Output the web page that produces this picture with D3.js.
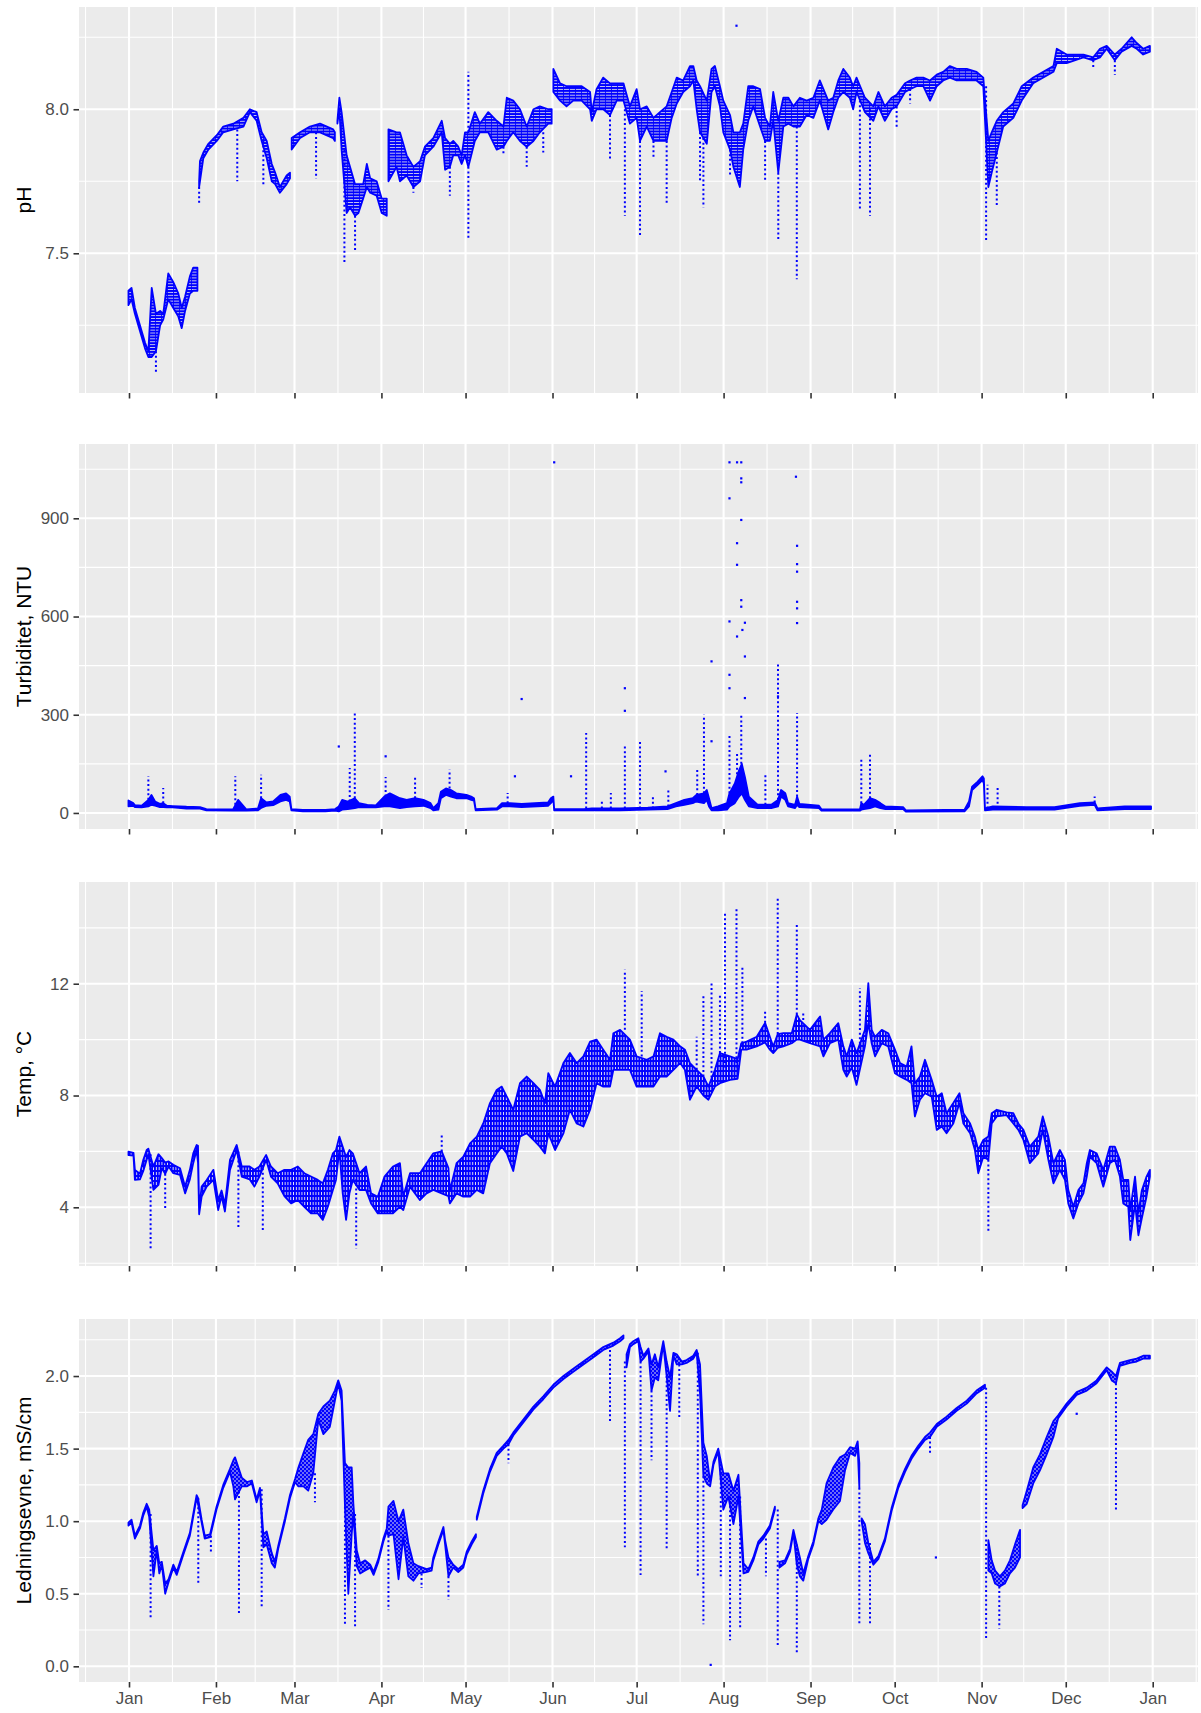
<!DOCTYPE html>
<html>
<head>
<meta charset="utf-8">
<script src="https://cdn.jsdelivr.net/npm/d3@7/dist/d3.min.js"></script>
<style>
  body { margin: 0; background: #ffffff; }
  svg text { font-family: "Liberation Sans", Arial, sans-serif; }
</style>
</head>
<body>
<script>
// x axis: day of year (0 = 1 Jan)
var monthDays = [0, 31, 59, 90, 120, 151, 181, 212, 243, 273, 304, 334, 365];
var monthLabels = ["Jan", "Feb", "Mar", "Apr", "May", "Jun", "Jul", "Aug", "Sep", "Oct", "Nov", "Dec", "Jan"];
var monthMinor = [-15.5, 15.5, 45, 74.5, 105, 135.5, 166, 196.5, 227.5, 258, 288.5, 319, 349.5, 380.5];

// pH: [day, low, high] envelope, null = gap in record
var phBand = [
  [-0.2, 7.32, 7.37], [0.9, 7.34, 7.38], [2.1, 7.29, 7.31], [3.9, 7.23, 7.25], [5.7, 7.17, 7.19],
  [6.9, 7.14, 7.16], [8.1, 7.14, 7.38], [9.6, 7.16, 7.29], [11.1, 7.25, 7.30], [12.2, 7.27, 7.29],
  [14.0, 7.34, 7.43], [15.8, 7.31, 7.40], [17.6, 7.28, 7.36], [18.8, 7.24, 7.31], [20.0, 7.30, 7.35],
  [21.7, 7.36, 7.42], [22.9, 7.37, 7.45], [24.4, 7.37, 7.45], null,
  [25.0, 7.73, 7.75], [25.3, 7.75, 7.82], [26.5, 7.83, 7.85], [28.3, 7.86, 7.88], [31.3, 7.89, 7.91],
  [33.6, 7.92, 7.94], [37.2, 7.93, 7.95], [40.8, 7.94, 7.97], [43.1, 7.99, 8.00], [45.5, 7.96, 7.99],
  [47.3, 7.89, 7.92], [49.1, 7.83, 7.89], [50.9, 7.75, 7.81], [52.1, 7.74, 7.78], [53.8, 7.71, 7.73],
  [56.2, 7.74, 7.77], [57.4, 7.76, 7.78], null,
  [58.0, 7.86, 7.90], [61.0, 7.90, 7.92], [64.5, 7.92, 7.94], [68.1, 7.92, 7.95], [72.8, 7.90, 7.93],
  [73.4, 7.89, 7.92], null,
  [74.3, 7.95, 7.96], [75.0, 8.00, 8.04], [75.8, 7.86, 7.99], [77.6, 7.64, 7.84], [78.8, 7.66, 7.80],
  [80.6, 7.63, 7.74], [81.8, 7.64, 7.74], [83.5, 7.69, 7.74], [84.8, 7.73, 7.81], [86.0, 7.71, 7.76],
  [88.3, 7.70, 7.75], [90.1, 7.64, 7.69], [91.9, 7.63, 7.69], null,
  [92.5, 7.75, 7.93], [95.4, 7.80, 7.92], [96.6, 7.75, 7.92], [99.0, 7.77, 7.84], [101.4, 7.73, 7.80],
  [103.8, 7.75, 7.82], [105.5, 7.84, 7.87], [108.5, 7.87, 7.90], [111.5, 7.92, 7.96], [112.7, 7.79, 7.90],
  [114.4, 7.80, 7.88], [115.6, 7.84, 7.89], [117.4, 7.84, 7.87], [118.6, 7.81, 7.84], [119.8, 7.84, 7.92],
  [121.0, 7.80, 7.92], [123.3, 7.89, 7.99], [125.1, 7.92, 7.95], [128.1, 7.92, 7.99], [131.1, 7.86, 7.96],
  [133.5, 7.87, 7.94], [134.7, 7.89, 8.04], [137.0, 7.92, 8.03], [139.4, 7.89, 8.00], [141.8, 7.87, 7.94],
  [144.2, 7.89, 8.00], [146.5, 7.92, 8.01], [149.5, 7.95, 8.00], [150.7, 7.95, 8.00], null,
  [151.3, 8.06, 8.14], [153.7, 8.03, 8.09], [156.0, 8.01, 8.08], [158.4, 8.03, 8.08], [161.4, 8.03, 8.08],
  [164.4, 8.00, 8.06], [165.0, 7.96, 7.99], [166.7, 8.00, 8.07], [169.1, 8.00, 8.11], [171.5, 7.98, 8.09],
  [173.9, 8.03, 8.09], [176.3, 8.03, 8.09], [178.6, 7.95, 8.01], [181.0, 7.97, 8.07], [182.2, 7.89, 8.00],
  [184.6, 7.94, 8.01], [187.0, 7.89, 7.97], [189.3, 7.89, 7.99], [191.7, 7.89, 8.01], [193.5, 7.97, 8.06],
  [195.3, 8.02, 8.11], [197.6, 8.06, 8.10], [200.0, 8.08, 8.15], [201.2, 8.10, 8.15], [202.4, 8.00, 8.10],
  [203.6, 7.92, 8.08], [206.0, 7.88, 8.03], [207.7, 8.06, 8.14], [208.9, 8.08, 8.15], [210.7, 8.01, 8.08],
  [211.9, 7.92, 8.03], [214.3, 7.86, 7.98], [215.5, 7.80, 7.92], [217.8, 7.73, 7.92], [219.0, 7.86, 7.95],
  [220.8, 7.96, 8.08], [222.6, 8.01, 8.08], [225.0, 7.94, 8.07], [226.8, 7.89, 7.97], [228.5, 7.89, 7.94],
  [229.7, 7.96, 8.06], [231.5, 7.78, 7.96], [233.3, 7.94, 8.04], [235.1, 7.95, 8.04], [236.9, 7.94, 8.01],
  [239.2, 7.94, 8.04], [241.6, 7.98, 8.03], [244.0, 7.97, 8.04], [246.3, 8.03, 8.10], [249.3, 7.93, 8.03],
  [251.1, 7.99, 8.04], [252.9, 8.04, 8.10], [254.7, 8.06, 8.14], [257.0, 8.04, 8.11], [258.2, 8.00, 8.08],
  [259.4, 8.06, 8.11], [262.4, 7.99, 8.04], [265.4, 7.96, 8.01], [267.2, 8.01, 8.06], [269.5, 7.96, 8.01],
  [271.9, 8.00, 8.04], [273.7, 8.01, 8.05], [276.7, 8.06, 8.09], [278.5, 8.07, 8.10], [280.8, 8.08, 8.11],
  [283.2, 8.08, 8.11], [285.6, 8.03, 8.10], [288.0, 8.08, 8.12], [290.3, 8.10, 8.13], [292.7, 8.11, 8.15],
  [295.1, 8.10, 8.14], [298.7, 8.10, 8.14], [302.2, 8.10, 8.13], [304.6, 8.08, 8.11], [306.4, 7.73, 7.89],
  [307.6, 7.78, 7.92], [309.4, 7.85, 7.96], [311.7, 7.94, 7.99], [315.3, 7.97, 8.02], [318.3, 8.03, 8.08],
  [322.4, 8.09, 8.11], [326.0, 8.11, 8.13], [329.6, 8.13, 8.15], [330.8, 8.16, 8.21], [334.3, 8.16, 8.19],
  [340.3, 8.18, 8.19], [343.8, 8.17, 8.18], [346.2, 8.18, 8.21], [348.6, 8.21, 8.22], [351.5, 8.17, 8.19],
  [353.9, 8.20, 8.21], [357.5, 8.22, 8.25], [359.3, 8.21, 8.23], [361.6, 8.19, 8.21], [364.0, 8.20, 8.22]
];
// pH short excursions: [day, from, to]
var phSpikes = [
  [9.6, 7.16, 7.08], [25.0, 7.73, 7.67], [38.6, 7.93, 7.75], [47.9, 7.89, 7.74], [66.7, 7.92, 7.76],
  [76.8, 7.86, 7.47], [80.6, 7.63, 7.51], [101.4, 7.73, 7.71], [114.4, 7.80, 7.70], [121.0, 7.80, 7.55],
  [121.0, 7.92, 8.13], [133.5, 7.87, 7.84], [141.8, 7.87, 7.80], [147.7, 7.92, 7.85], [171.5, 7.98, 7.82],
  [176.8, 8.00, 7.63], [182.2, 7.89, 7.56], [187.0, 7.89, 7.83], [191.7, 7.89, 7.67], [203.6, 7.92, 7.75],
  [204.8, 7.90, 7.66], [214.3, 7.86, 7.77], [226.8, 7.89, 7.75], [231.5, 7.78, 7.54], [238.1, 7.94, 7.41],
  [260.6, 8.03, 7.65], [264.2, 8.00, 7.63], [273.7, 8.01, 7.93], [278.5, 8.07, 8.02], [305.6, 8.08, 7.54],
  [309.4, 7.85, 7.66], [343.8, 8.17, 8.14], [351.5, 8.17, 8.12]
];
var phOutliers = [[216.6, 8.29]];
var phTicks = [7.5, 8.0];
var phTickLabels = ["7.5", "8.0"];
var phMinor = [7.25, 7.75, 8.25];

// Turbidity, NTU
var turbBand = [
  [-0.2, 20, 38], [1.5, 22, 30], [2.1, 18, 24], [4.5, 17, 22], [6.9, 20, 40], [8.0, 25, 55],
  [9.3, 22, 35], [11.0, 18, 28], [12.2, 18, 30], [13.5, 17, 22], [15.6, 17, 21], [20.5, 13, 19],
  [25.3, 13, 18], [27.6, 8, 12], [37.1, 7, 11], [38.9, 8, 40], [41.8, 7, 11], [46.0, 8, 14],
  [47.1, 15, 45], [49.0, 22, 32], [51.4, 24, 35], [54.0, 35, 55], [56.0, 40, 60], [57.3, 35, 50],
  [57.9, 8, 12], [62.0, 5, 9], [70.0, 5, 9], [73.5, 7, 12], [74.8, 5, 20], [76.0, 10, 40],
  [78.0, 12, 35], [80.5, 15, 45], [82.0, 18, 30], [85.0, 17, 25], [88.0, 17, 23], [91.0, 20, 50],
  [93.0, 20, 60], [96.6, 15, 45], [99.0, 18, 40], [102.0, 20, 45], [105.0, 22, 40], [107.5, 15, 30],
  [108.5, 8, 15], [110.3, 10, 30], [111.2, 45, 65], [113.0, 55, 75], [114.8, 50, 70], [116.7, 45, 60],
  [120.3, 45, 55], [122.0, 40, 50], [123.0, 38, 45], [123.6, 8, 12], [131.2, 10, 15], [133.0, 20, 30],
  [135.8, 20, 30], [140.0, 18, 28], [149.4, 22, 32], [150.4, 30, 45], [151.3, 40, 50], [151.6, 8, 12],
  [162.2, 8, 12], [165.0, 8, 14], [175.0, 8, 14], [185.0, 10, 16], [192.0, 12, 20], [195.0, 20, 30],
  [198.0, 25, 40], [201.0, 30, 45], [202.3, 35, 55], [205.0, 30, 60], [206.0, 40, 70], [206.8, 20, 45],
  [207.7, 8, 15], [210.0, 8, 20], [213.2, 10, 30], [214.1, 20, 60], [216.0, 30, 90], [217.5, 50, 130],
  [218.5, 60, 150], [219.6, 40, 110], [221.0, 20, 50], [224.1, 15, 25], [229.0, 15, 25], [231.4, 20, 40],
  [232.5, 50, 70], [234.0, 40, 60], [235.0, 20, 30], [237.5, 15, 25], [238.2, 25, 50], [239.0, 18, 28],
  [246.0, 15, 22], [246.9, 7, 11], [260.6, 7, 11], [261.1, 10, 30], [262.0, 12, 25], [264.2, 15, 45],
  [266.0, 20, 40], [267.9, 15, 30], [269.7, 12, 20], [276.0, 12, 18], [277.0, 4, 8], [297.9, 5, 10],
  [299.5, 20, 35], [300.6, 70, 80], [302.5, 85, 95], [304.3, 100, 112], [304.8, 90, 105], [305.2, 8, 14],
  [308.0, 10, 20], [320.0, 10, 18], [330.0, 10, 18], [339.0, 22, 30], [344.3, 25, 32], [345.3, 8, 14],
  [355.0, 12, 20], [364.4, 12, 20]
];
var turbSpikes = [
  [6.9, 40, 112], [12.2, 30, 76], [37.9, 11, 112], [47.1, 45, 117], [78.7, 35, 137], [80.5, 45, 305],
  [91.5, 50, 110], [102.0, 45, 112], [114.3, 75, 132], [135.0, 30, 61], [163.0, 14, 244], [168.6, 14, 40],
  [171.8, 14, 61], [176.8, 14, 208], [182.2, 14, 224], [186.8, 14, 56], [192.3, 20, 71], [202.6, 55, 132],
  [205.0, 60, 300], [214.1, 60, 240], [216.8, 90, 180], [218.3, 150, 300], [226.9, 25, 122], [231.4, 40, 458],
  [238.2, 50, 305], [261.1, 30, 163], [264.2, 45, 183], [306.1, 14, 86], [309.7, 14, 81], [344.3, 32, 50]
];
var turbOutliers = [
  [74.8, 203], [91.5, 173], [137.6, 112], [140.0, 348], [151.6, 1071], [157.6, 112], [176.8, 381],
  [176.8, 312], [191.3, 127], [207.7, 463], [207.7, 219], [214.1, 1071], [214.1, 961], [214.1, 585],
  [214.1, 422], [214.1, 381], [216.8, 1071], [216.8, 824], [216.8, 758], [216.8, 539], [218.3, 1071],
  [218.3, 1022], [218.3, 1010], [218.3, 895], [218.3, 650], [218.3, 630], [218.7, 559], [219.6, 581],
  [219.6, 478], [219.6, 351], [231.4, 356], [237.8, 1027], [238.2, 816], [238.2, 760], [238.2, 737],
  [238.2, 645], [238.2, 625], [238.2, 580]
];
var turbTicks = [0, 300, 600, 900];
var turbTickLabels = ["0", "300", "600", "900"];
var turbMinor = [150, 450, 750, 1050];

// Temperature, deg C
var tempBand = [
  [-0.2, 5.87, 5.99], [1.6, 5.85, 5.95], [2.1, 4.98, 5.34], [3.9, 5.00, 5.20], [5.1, 5.30, 5.70],
  [6.3, 5.70, 6.05], [6.9, 5.90, 6.10], [8.7, 4.62, 5.46], [10.5, 4.80, 5.90], [11.7, 5.40, 5.76],
  [12.9, 5.20, 5.60], [14.1, 5.46, 5.64], [15.8, 5.22, 5.52], [18.2, 5.16, 5.40], [20.0, 4.50, 4.74],
  [21.7, 5.00, 5.34], [22.9, 5.58, 5.93], [24.1, 6.05, 6.23], [24.6, 5.60, 6.20], [25.0, 3.75, 3.95],
  [25.9, 4.38, 4.74], [27.7, 4.74, 4.98], [30.1, 4.98, 5.34], [31.8, 3.90, 4.26], [33.0, 4.40, 4.60],
  [34.2, 3.85, 4.10], [36.0, 5.34, 5.70], [38.4, 6.05, 6.23], [40.2, 5.10, 5.46], [43.0, 5.00, 5.46],
  [44.7, 4.74, 5.34], [46.5, 5.10, 5.46], [48.9, 5.70, 5.87], [50.6, 5.10, 5.46], [53.0, 4.86, 5.22],
  [55.4, 4.40, 5.34], [57.8, 4.14, 5.34], [60.2, 4.26, 5.46], [62.5, 4.02, 5.22], [64.9, 3.78, 5.10],
  [67.3, 3.78, 4.98], [69.1, 3.55, 4.86], [70.9, 4.02, 5.34], [72.7, 4.62, 5.93], [73.8, 4.98, 6.05],
  [75.0, 6.05, 6.53], [76.2, 4.50, 6.17], [77.4, 3.55, 5.80], [78.6, 4.50, 6.05], [79.8, 4.98, 5.93],
  [82.2, 4.62, 5.22], [84.5, 4.62, 5.46], [86.3, 4.14, 4.50], [88.7, 3.78, 4.38], [91.1, 3.78, 5.10],
  [94.1, 3.78, 5.46], [96.6, 4.02, 5.58], [97.8, 3.90, 4.40], [100.2, 4.74, 5.22], [103.7, 4.26, 5.22],
  [106.1, 4.50, 5.58], [108.5, 4.62, 5.93], [111.5, 4.50, 6.00], [113.9, 4.40, 5.40], [114.4, 4.14, 4.60],
  [116.8, 4.50, 5.58], [119.2, 4.38, 5.81], [121.6, 4.38, 6.29], [124.0, 4.62, 6.53], [126.3, 4.50, 7.00],
  [128.7, 5.58, 7.73], [131.1, 5.93, 8.20], [132.9, 6.17, 8.32], [134.7, 5.93, 7.96], [137.0, 5.30, 7.49],
  [139.4, 6.53, 8.44], [141.8, 6.65, 8.68], [144.2, 6.41, 8.44], [146.5, 6.17, 8.20], [148.3, 5.93, 7.73],
  [149.5, 6.65, 8.80], [151.9, 6.05, 8.32], [154.9, 6.65, 9.16], [157.2, 7.49, 9.52], [159.6, 7.00, 9.16],
  [162.0, 6.89, 9.40], [164.4, 7.49, 9.93], [166.7, 8.44, 10.00], [169.1, 8.32, 9.64], [171.5, 8.32, 9.28],
  [172.7, 8.92, 10.23], [175.1, 8.92, 10.35], [178.6, 8.92, 10.00], [181.0, 8.32, 9.40], [184.6, 8.32, 9.28],
  [187.0, 8.32, 9.40], [189.3, 8.68, 10.23], [191.7, 8.68, 10.10], [194.1, 8.92, 10.00], [196.5, 9.16, 9.76],
  [198.2, 8.92, 9.64], [200.0, 7.85, 9.16], [202.4, 8.32, 8.92], [204.8, 8.00, 8.68], [206.6, 7.85, 8.32],
  [208.9, 8.32, 8.92], [210.7, 8.44, 9.52], [214.3, 8.56, 9.40], [217.0, 8.60, 9.30], [218.3, 9.64, 9.87],
  [220.2, 9.64, 9.93], [223.8, 9.76, 10.10], [226.8, 9.90, 10.60], [228.5, 9.64, 10.10], [229.7, 9.52, 9.75],
  [231.3, 9.70, 10.20], [233.3, 9.76, 10.23], [236.3, 9.87, 10.23], [238.1, 10.00, 10.90], [239.2, 10.00, 10.70],
  [242.8, 9.87, 10.35], [246.4, 9.76, 10.83], [247.6, 9.40, 10.00], [249.9, 9.87, 10.23], [252.9, 10.00, 10.59],
  [254.7, 8.92, 9.76], [255.9, 8.68, 9.40], [257.7, 9.00, 10.00], [259.4, 8.38, 9.52], [262.4, 9.76, 10.35],
  [263.6, 10.59, 12.02], [264.8, 9.87, 10.35], [266.0, 9.40, 10.10], [268.4, 9.87, 10.35], [270.7, 9.76, 10.23],
  [273.1, 8.80, 9.64], [274.9, 8.68, 9.16], [277.3, 8.56, 9.04], [279.0, 8.44, 9.76], [280.2, 7.25, 8.44],
  [282.0, 7.85, 8.68], [283.8, 8.08, 9.28], [286.2, 7.96, 8.56], [288.0, 6.77, 7.96], [289.8, 6.89, 8.08],
  [291.5, 6.65, 7.37], [293.9, 7.00, 7.73], [296.1, 7.73, 8.08], [297.5, 7.00, 7.37], [299.9, 6.65, 7.00],
  [301.6, 6.05, 6.53], [302.8, 5.22, 6.05], [304.6, 5.81, 6.41], [306.4, 5.70, 6.53], [307.6, 7.00, 7.37],
  [309.4, 7.25, 7.49], [312.9, 7.30, 7.40], [315.3, 7.00, 7.37], [317.1, 6.77, 7.00], [318.9, 6.41, 6.77],
  [321.2, 5.58, 6.17], [324.2, 5.93, 6.53], [325.8, 6.77, 7.25], [327.8, 5.70, 6.53], [329.6, 4.86, 5.58],
  [331.9, 5.34, 6.05], [333.7, 4.98, 5.70], [334.9, 4.14, 4.62], [336.7, 3.60, 4.02], [338.5, 4.14, 4.62],
  [340.3, 4.50, 4.86], [341.5, 5.10, 5.58], [342.6, 5.81, 6.05], [345.0, 5.58, 5.93], [347.4, 4.74, 5.34],
  [349.7, 5.58, 6.17], [351.5, 5.70, 6.17], [353.3, 5.10, 5.70], [354.5, 4.14, 4.98], [356.3, 4.02, 4.98],
  [357.0, 2.83, 3.90], [358.7, 4.14, 5.10], [359.9, 3.00, 3.80], [361.1, 3.60, 4.60], [362.8, 4.38, 5.10],
  [364.0, 5.10, 5.34]
];
var tempSpikes = [
  [7.7, 5.90, 2.53], [12.9, 5.20, 3.90], [39.0, 6.00, 3.25], [47.7, 5.40, 3.19], [81.0, 5.50, 2.53],
  [111.5, 6.00, 6.65], [176.8, 10.35, 12.50], [182.8, 9.40, 11.73], [202.4, 8.92, 10.10], [204.8, 8.68, 11.55],
  [207.7, 8.32, 12.08], [210.7, 9.52, 11.60], [212.5, 9.00, 14.53], [216.6, 9.00, 14.71], [218.7, 9.87, 12.60],
  [226.8, 10.60, 11.07], [231.3, 10.20, 15.07], [238.1, 10.90, 14.17], [240.4, 10.70, 11.00],
  [260.6, 9.52, 11.84], [306.4, 5.70, 3.13]
];
var tempOutliers = [];
var tempTicks = [4, 8, 12];
var tempTickLabels = ["4", "8", "12"];
var tempMinor = [2, 6, 10, 14];

// Conductivity, mS/cm
var condBand = [
  [-0.2, 0.97, 0.99], [0.9, 0.99, 1.01], [2.1, 0.88, 0.90], [3.9, 0.95, 0.97], [5.1, 1.04, 1.06],
  [6.3, 1.10, 1.12], [7.2, 1.03, 1.08], [8.7, 0.62, 0.80], [9.9, 0.80, 0.83], [10.8, 0.64, 0.71],
  [11.7, 0.70, 0.72], [12.9, 0.50, 0.57], [14.1, 0.58, 0.60], [15.8, 0.68, 0.70], [17.0, 0.63, 0.65],
  [19.4, 0.77, 0.79], [21.7, 0.90, 0.92], [24.1, 1.16, 1.18], [24.6, 1.12, 1.16], [25.9, 0.99, 1.01],
  [27.0, 0.88, 0.90], [28.9, 0.89, 0.91], [31.2, 1.08, 1.10], [33.6, 1.23, 1.25], [36.0, 1.34, 1.36],
  [37.2, 1.24, 1.42], [37.8, 1.15, 1.44], [40.2, 1.24, 1.30], [42.0, 1.24, 1.27], [43.8, 1.26, 1.28],
  [45.5, 1.13, 1.15], [46.7, 1.21, 1.23], [47.9, 0.82, 0.91], [49.1, 0.84, 0.93], [50.9, 0.71, 0.78],
  [52.0, 0.68, 0.72], [53.2, 0.81, 0.83], [55.6, 1.00, 1.02], [57.4, 1.16, 1.18], [59.2, 1.27, 1.29],
  [60.4, 1.24, 1.37], [62.2, 1.24, 1.47], [63.9, 1.21, 1.56], [65.7, 1.33, 1.60], [67.5, 1.70, 1.74],
  [69.3, 1.60, 1.79], [71.6, 1.65, 1.83], [73.4, 1.83, 1.90], [74.6, 1.95, 1.97], [75.8, 1.83, 1.90],
  [77.0, 1.10, 1.40], [78.2, 0.50, 1.37], [79.4, 0.91, 1.37], [80.0, 1.05, 1.12], [81.2, 0.69, 0.80],
  [82.4, 0.64, 0.71], [84.2, 0.66, 0.73], [86.0, 0.68, 0.70], [87.2, 0.63, 0.65], [88.9, 0.72, 0.74],
  [90.7, 0.86, 0.88], [91.9, 0.93, 0.95], [92.5, 0.90, 1.10], [94.3, 0.91, 1.14], [96.1, 0.60, 1.00],
  [97.8, 0.89, 1.08], [99.6, 0.62, 0.85], [101.4, 0.59, 0.71], [103.2, 0.64, 0.69], [106.1, 0.65, 0.67],
  [107.9, 0.66, 0.68], [108.5, 0.73, 0.75], [110.3, 0.84, 0.86], [112.1, 0.94, 0.96], [112.7, 0.84, 0.87],
  [113.9, 0.62, 0.75], [115.6, 0.68, 0.70], [117.4, 0.65, 0.67], [119.2, 0.68, 0.70], [120.4, 0.77, 0.79],
  [122.2, 0.84, 0.86], [123.7, 0.89, 0.91], null,
  [124.0, 1.01, 1.03], [126.3, 1.19, 1.21], [128.7, 1.34, 1.36], [131.1, 1.45, 1.47], [133.5, 1.50, 1.52],
  [135.3, 1.53, 1.56], [137.0, 1.59, 1.61], [140.6, 1.68, 1.70], [144.2, 1.77, 1.79], [147.7, 1.84, 1.86],
  [151.3, 1.92, 1.94], [154.9, 1.98, 2.00], [158.4, 2.03, 2.05], [162.0, 2.08, 2.10], [165.6, 2.13, 2.15],
  [169.1, 2.18, 2.20], [172.7, 2.21, 2.23], [175.1, 2.24, 2.26], [176.3, 2.26, 2.28], null,
  [177.4, 2.06, 2.15], [178.6, 2.20, 2.22], [179.8, 2.22, 2.24], [181.6, 2.24, 2.26], [182.4, 2.10, 2.20],
  [183.4, 2.12, 2.14], [185.2, 2.17, 2.19], [186.3, 1.90, 2.08], [187.5, 1.99, 2.15], [188.7, 1.97, 2.06],
  [190.5, 2.22, 2.24], [191.7, 2.00, 2.10], [192.9, 1.76, 1.99], [194.1, 2.14, 2.16], [195.3, 2.08, 2.15],
  [197.1, 2.08, 2.10], [198.8, 2.09, 2.11], [201.2, 2.12, 2.14], [202.4, 2.16, 2.18], [203.6, 1.88, 2.08],
  [204.8, 1.31, 1.54], [206.0, 1.26, 1.45], [207.2, 1.24, 1.27], [208.4, 1.39, 1.41], [210.1, 1.48, 1.50],
  [211.9, 1.08, 1.33], [213.7, 1.17, 1.33], [215.5, 0.98, 1.21], [217.3, 1.17, 1.32], [219.1, 0.64, 0.71],
  [220.8, 0.65, 0.67], [222.6, 0.73, 0.75], [224.4, 0.84, 0.86], [226.2, 0.88, 0.90], [228.5, 0.95, 0.97],
  [230.3, 1.08, 1.10], null,
  [231.9, 0.68, 0.72], [233.9, 0.71, 0.73], [235.7, 0.79, 0.81], [236.9, 0.92, 0.94], [238.1, 0.70, 0.84],
  [239.2, 0.62, 0.75], [240.4, 0.59, 0.64], [242.2, 0.74, 0.76], [244.0, 0.84, 0.86], [245.8, 1.00, 1.02],
  [247.0, 0.98, 1.08], [248.7, 1.01, 1.26], [251.1, 1.08, 1.37], [253.5, 1.14, 1.44], [255.3, 1.35, 1.46],
  [257.1, 1.47, 1.51], [258.9, 1.45, 1.50], [259.8, 1.51, 1.55], [260.4, 1.23, 1.40], null,
  [261.2, 1.00, 1.02], [262.4, 0.85, 0.98], [263.6, 0.78, 0.85], [265.4, 0.70, 0.72], [267.2, 0.74, 0.76],
  [269.5, 0.86, 0.88], [271.9, 1.07, 1.09], [274.3, 1.23, 1.25], [276.7, 1.34, 1.36], [279.0, 1.43, 1.45],
  [281.4, 1.50, 1.52], [283.8, 1.56, 1.58], [285.6, 1.58, 1.61], [288.0, 1.65, 1.67], [291.5, 1.70, 1.72],
  [295.1, 1.76, 1.78], [298.7, 1.81, 1.83], [302.2, 1.88, 1.90], [305.2, 1.92, 1.94], null,
  [306.4, 0.66, 0.87], [307.6, 0.64, 0.73], [308.8, 0.57, 0.66], [310.5, 0.55, 0.62], [312.3, 0.57, 0.66],
  [314.1, 0.64, 0.73], [315.9, 0.68, 0.84], [317.7, 0.75, 0.94], null,
  [318.6, 1.09, 1.11], [320.1, 1.12, 1.21], [322.4, 1.26, 1.37], [324.8, 1.35, 1.46], [327.2, 1.46, 1.58],
  [329.6, 1.58, 1.69], [331.3, 1.71, 1.73], [334.3, 1.79, 1.81], [337.9, 1.87, 1.89], [341.5, 1.90, 1.92],
  [345.0, 1.95, 1.97], [348.6, 2.04, 2.06], [350.4, 1.97, 2.03], [351.9, 1.95, 2.00], [353.3, 2.07, 2.09],
  [356.9, 2.09, 2.11], [359.3, 2.10, 2.12], [361.6, 2.12, 2.14], [364.0, 2.12, 2.14]
];
var condSpikes = [
  [7.7, 1.05, 0.33], [24.7, 1.16, 0.56], [29.2, 0.90, 0.78], [39.2, 1.30, 0.36], [47.3, 1.22, 0.40],
  [66.3, 1.33, 1.13], [77.0, 1.10, 0.29], [80.6, 1.05, 0.26], [92.5, 0.90, 0.39], [104.3, 0.64, 0.54],
  [113.9, 0.62, 0.46], [135.3, 1.53, 1.40], [171.5, 2.18, 1.69], [176.8, 2.10, 0.82], [182.4, 2.10, 0.63],
  [186.3, 1.90, 1.42], [191.7, 2.00, 0.81], [196.2, 2.08, 1.71], [202.8, 2.16, 0.62], [204.8, 1.31, 0.29],
  [211.0, 1.33, 0.62], [214.3, 1.17, 0.18], [217.9, 1.17, 0.27], [227.1, 0.88, 0.62], [231.3, 1.08, 0.13],
  [238.1, 0.84, 0.09], [260.4, 1.23, 0.29], [264.2, 0.85, 0.29], [285.6, 1.58, 1.46], [305.6, 1.92, 0.19],
  [310.3, 0.55, 0.26], [351.9, 1.95, 1.08]
];
var condOutliers = [[207.4, 0.01], [287.7, 0.75], [337.9, 1.74]];
var condTicks = [0, 0.5, 1.0, 1.5, 2.0];
var condTickLabels = ["0.0", "0.5", "1.0", "1.5", "2.0"];
var condMinor = [0.25, 0.75, 1.25, 1.75, 2.25];


window.onload = function() {
  build_chart();
};

var build_chart = function() {
  var w = 1201;
  var h = 1713;
  var left = 79;
  var right = 1198;
  var blue = "#0000ff";

  var panels = [
    {title: "pH", band: phBand, spikes: phSpikes, outliers: phOutliers,
     ticks: phTicks, labels: phTickLabels, minor: phMinor,
     top: 7, bottom: 393, domain: [7.015, 8.355], fill: "url(#rows)"},
    {title: "Turbiditet, NTU", band: turbBand, spikes: turbSpikes, outliers: turbOutliers,
     ticks: turbTicks, labels: turbTickLabels, minor: turbMinor,
     top: 444, bottom: 829, domain: [-49, 1127], fill: blue},
    {title: "Temp, \u00B0C", band: tempBand, spikes: tempSpikes, outliers: tempOutliers,
     ticks: tempTicks, labels: tempTickLabels, minor: tempMinor,
     top: 882, bottom: 1266, domain: [1.9, 15.64], fill: "url(#cols)"},
    {title: "Ledningsevne, mS/cm", band: condBand, spikes: condSpikes, outliers: condOutliers,
     ticks: condTicks, labels: condTickLabels, minor: condMinor,
     top: 1319, bottom: 1682, domain: [-0.108, 2.393], fill: "url(#speck)"}
  ];

  var x_scale = d3.scaleLinear()
    .domain([-17.83, 381.15])
    .range([left, right]);

  var svg = d3.select("body")
    .append("svg")
    .attr("width", w)
    .attr("height", h);

  // fill textures that mimic the dense point clouds
  var defs = svg.append("defs");
  var rows = defs.append("pattern")
    .attr("id", "rows")
    .attr("patternUnits", "userSpaceOnUse")
    .attr("width", 6).attr("height", 2.9);
  rows.append("rect").attr("width", 6).attr("height", 2.1).attr("fill", blue);
  rows.append("rect").attr("x", 5).attr("y", 2.1).attr("width", 1).attr("height", 0.8).attr("fill", blue);

  var cols = defs.append("pattern")
    .attr("id", "cols")
    .attr("patternUnits", "userSpaceOnUse")
    .attr("width", 2.8).attr("height", 5);
  cols.append("rect").attr("width", 1.9).attr("height", 5).attr("fill", blue);
  cols.append("rect").attr("x", 1.9).attr("y", 0).attr("width", 0.9).attr("height", 2).attr("fill", blue);

  var speck = defs.append("pattern")
    .attr("id", "speck")
    .attr("patternUnits", "userSpaceOnUse")
    .attr("width", 4).attr("height", 4);
  speck.append("rect").attr("width", 4).attr("height", 4).attr("fill", blue).attr("fill-opacity", 0.55);
  speck.append("rect").attr("width", 2).attr("height", 2).attr("fill", blue);
  speck.append("rect").attr("x", 2).attr("y", 2).attr("width", 2).attr("height", 2).attr("fill", blue);

  svg.append("rect")
    .attr("width", w)
    .attr("height", h)
    .attr("fill", "#ffffff");

  panels.forEach(function(p, idx) {
    var y_scale = d3.scaleLinear()
      .domain(p.domain)
      .range([p.bottom, p.top]);

    var g = svg.append("g");
    var clipId = "clip" + idx;
    defs.append("clipPath")
      .attr("id", clipId)
      .append("rect")
      .attr("x", left)
      .attr("y", p.top)
      .attr("width", right - left)
      .attr("height", p.bottom - p.top);

    g.append("rect")
      .attr("x", left)
      .attr("y", p.top)
      .attr("width", right - left)
      .attr("height", p.bottom - p.top)
      .attr("fill", "#ebebeb");

    var grid = g.append("g").attr("clip-path", "url(#" + clipId + ")");
    // minor grid first, then major
    grid.selectAll(".vminor").data(monthMinor).enter().append("line")
      .attr("x1", function(d) { return x_scale(d); })
      .attr("x2", function(d) { return x_scale(d); })
      .attr("y1", p.top).attr("y2", p.bottom)
      .attr("stroke", "#ffffff").attr("stroke-width", 1.1);
    grid.selectAll(".hminor").data(p.minor).enter().append("line")
      .attr("x1", left).attr("x2", right)
      .attr("y1", function(d) { return y_scale(d); })
      .attr("y2", function(d) { return y_scale(d); })
      .attr("stroke", "#ffffff").attr("stroke-width", 1.1);
    grid.selectAll(".vmajor").data(monthDays).enter().append("line")
      .attr("x1", function(d) { return x_scale(d); })
      .attr("x2", function(d) { return x_scale(d); })
      .attr("y1", p.top).attr("y2", p.bottom)
      .attr("stroke", "#ffffff").attr("stroke-width", 2.1);
    grid.selectAll(".hmajor").data(p.ticks).enter().append("line")
      .attr("x1", left).attr("x2", right)
      .attr("y1", function(d) { return y_scale(d); })
      .attr("y2", function(d) { return y_scale(d); })
      .attr("stroke", "#ffffff").attr("stroke-width", 2.1);

    var marks = g.append("g").attr("clip-path", "url(#" + clipId + ")");

    var area = d3.area()
      .defined(function(d) { return d !== null; })
      .x(function(d) { return x_scale(d[0]); })
      .y0(function(d) { return y_scale(d[1]); })
      .y1(function(d) { return y_scale(d[2]); });

    marks.append("path")
      .datum(p.band)
      .attr("d", area)
      .attr("fill", p.fill)
      .attr("stroke", blue)
      .attr("stroke-width", 1.8)
      .attr("stroke-linejoin", "round");

    marks.selectAll(".spike").data(p.spikes).enter().append("line")
      .attr("x1", function(d) { return x_scale(d[0]); })
      .attr("x2", function(d) { return x_scale(d[0]); })
      .attr("y1", function(d) { return y_scale(d[1]); })
      .attr("y2", function(d) { return y_scale(d[2]); })
      .attr("stroke", blue)
      .attr("stroke-width", 2)
      .attr("stroke-dasharray", "2 2.6");

    marks.selectAll(".outlier").data(p.outliers).enter().append("rect")
      .attr("x", function(d) { return x_scale(d[0]) - 1.1; })
      .attr("y", function(d) { return y_scale(d[1]) - 1.1; })
      .attr("width", 2.2)
      .attr("height", 2.2)
      .attr("fill", blue);

    // y axis
    var y_axis = d3.axisLeft(y_scale)
      .tickValues(p.ticks)
      .tickFormat(function(d, i) { return p.labels[i]; })
      .tickSize(5.5)
      .tickPadding(4.5);
    var ga = svg.append("g")
      .attr("transform", "translate(" + left + ",0)")
      .call(y_axis);
    ga.select(".domain").remove();
    ga.selectAll("line").attr("stroke", "#333333").attr("stroke-width", 1.6);
    ga.selectAll("text")
      .attr("fill", "#4d4d4d")
      .style("font-size", "17px");

    // x axis (labels on the last panel only)
    var last = idx === panels.length - 1;
    var x_axis = d3.axisBottom(x_scale)
      .tickValues(monthDays)
      .tickFormat(function(d, i) { return last ? monthLabels[i] : ""; })
      .tickSize(5.5)
      .tickPadding(4.5);
    var gx = svg.append("g")
      .attr("transform", "translate(0," + p.bottom + ")")
      .call(x_axis);
    gx.select(".domain").remove();
    gx.selectAll("line").attr("stroke", "#333333").attr("stroke-width", 1.6);
    gx.selectAll("text")
      .attr("fill", "#4d4d4d")
      .style("font-size", "17px");

    svg.append("text")
      .attr("transform", "translate(31," + ((p.top + p.bottom) / 2) + ") rotate(-90)")
      .attr("text-anchor", "middle")
      .attr("fill", "#000000")
      .style("font-size", "21px")
      .text(p.title);
  });
};
</script>
</body>
</html>
